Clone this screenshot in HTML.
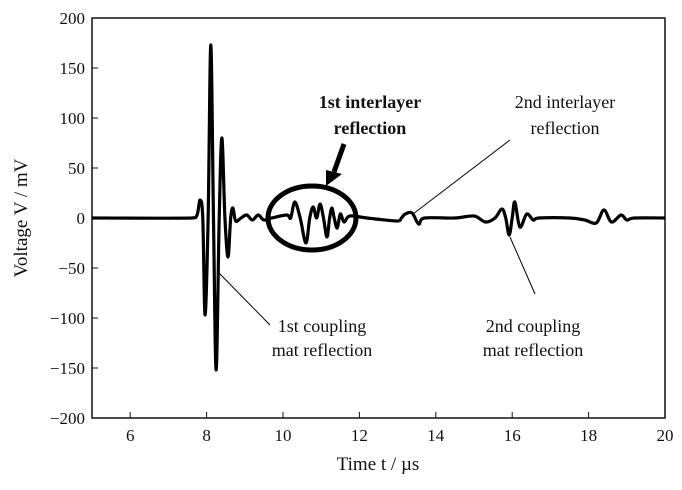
<!DOCTYPE html>
<html><head><meta charset="utf-8"><style>
body{margin:0;background:#fff;}
svg text{font-family:"Liberation Serif",serif;fill:#111;}
</style></head><body>
<svg id="c" width="682" height="485" xmlns="http://www.w3.org/2000/svg"></svg>
<script>
const times=[5,7.6,7.75,7.83,7.9,7.96,8.04,8.11,8.18,8.25,8.33,8.40,8.48,8.56,8.63,8.69,8.76,8.9,9.05,9.2,9.35,9.5,9.7,10.1,10.2,10.31,10.45,10.6,10.7,10.79,10.88,10.97,11.06,11.15,11.22,11.28,11.34,11.42,11.5,11.6,11.75,12.2,13.0,13.1,13.2,13.38,13.55,13.7,14.5,15.0,15.3,15.55,15.73,15.83,15.92,16.0,16.07,16.2,16.38,16.55,16.7,17.5,17.9,18.2,18.4,18.6,18.85,19.0,19.2,20];
const volts=[0,0,3,18,0,-97,0,173,0,-152,0,80,0,-39,0,10,-3,0,3,-2,3,-2,0,3,0,16,0,-25,0,11,0,14,0,-19,0,10,0,-10,4,-4,2,0,-3,0,4,5,-6,0,0,2,-4,0,9,0,-17,0,16,-9,4,-2,0,0,-2,-5,8,-4,3,-2,0,0];
const xTicks=[6,8,10,12,14,16,18,20];
const yTicks=[200,150,100,50,0,-50,-100,-150,-200];
const NS="http://www.w3.org/2000/svg";
const svg=document.getElementById('c');
const X0=92,X1=665,Y0=18,Y1=418;
const sx=t=>X0+(t-5)/(20-5)*(X1-X0);
const sy=v=>Y1-(v+200)/400*(Y1-Y0);
function mk(tag,a,p){const e=document.createElementNS(NS,tag);for(const k in a)e.setAttribute(k,a[k]);(p||svg).appendChild(e);return e;}
// frame
const fr=mk('rect',{x:X0,y:Y0,width:X1-X0,height:Y1-Y0,fill:'none',stroke:'#111','stroke-width':1.5});


xTicks.forEach(t=>{
 const l=mk('line',{x1:sx(t),x2:sx(t),y1:Y1,y2:Y1-6,stroke:'#111'});
 
 
 const tx=mk('text',{x:sx(t),y:Y1+23,'text-anchor':'middle','font-size':17});
 tx.textContent=t;
 
 
});
yTicks.forEach(v=>{
 const l=mk('line',{x1:X0,x2:X0+6,y1:sy(v),y2:sy(v),stroke:'#111'});
 
 
 const tx=mk('text',{x:X0-7,y:sy(v)+6,'text-anchor':'end','font-size':17});
 tx.textContent=v<0?'\u2212'+(-v):v;
 
 
});
const xt=mk('text',{x:378,y:470,'text-anchor':'middle','font-size':19});
xt.textContent='Time t / \u00b5s';


const yt=mk('text',{x:0,y:0,'text-anchor':'middle','font-size':19,transform:'translate(27,218) rotate(-90)'});
yt.textContent='Voltage V / mV';


// smooth curve (Catmull-Rom)
const P=times.map((t,i)=>[sx(t),sy(volts[i])]);
let d='M'+P[0][0]+','+P[0][1];
for(let i=0;i<P.length-1;i++){
 const p0=P[Math.max(i-1,0)],p1=P[i],p2=P[i+1],p3=P[Math.min(i+2,P.length-1)];
 const c1=[p1[0]+(p2[0]-p0[0])/6,p1[1]+(p2[1]-p0[1])/6];
 const c2=[p2[0]-(p3[0]-p1[0])/6,p2[1]-(p3[1]-p1[1])/6];
 c1[0]=Math.min(Math.max(c1[0],p1[0]),p2[0]);c2[0]=Math.min(Math.max(c2[0],p1[0]),p2[0]);
 d+=` C${c1[0]},${c1[1]} ${c2[0]},${c2[1]} ${p2[0]},${p2[1]}`;
}
const ln=mk('path',{d:d,fill:'none',stroke:'#000','stroke-width':3.2,'stroke-linejoin':'round'});


// annotations
const el=mk('ellipse',{cx:312,cy:218,rx:44,ry:32,fill:'none',stroke:'#000','stroke-width':5});


const ar=mk('line',{x1:344,y1:144,x2:334,y2:172,stroke:'#000','stroke-width':5});


const ah=mk('polygon',{points:'326,186 326,170 342,174',fill:'#000'});


[[510,140,413,214,'leader-2nd-interlayer'],[270,325,218,272,'leader-1st-coupling'],[535,294,510,237,'leader-2nd-coupling']].forEach(a=>{
 const l=mk('line',{x1:a[0],y1:a[1],x2:a[2],y2:a[3],stroke:'#000','stroke-width':1});
 
 
});
[[370,108,'1st interlayer',true,'label-1st-interlayer'],[370,134,'reflection',true,'label-1st-interlayer-2'],
 [565,108,'2nd interlayer',false,'label-2nd-interlayer'],[565,134,'reflection',false,'label-2nd-interlayer-2'],
 [322,332,'1st coupling',false,'label-1st-coupling'],[322,356,'mat reflection',false,'label-1st-coupling-2'],
 [533,332,'2nd coupling',false,'label-2nd-coupling'],[533,356,'mat reflection',false,'label-2nd-coupling-2']].forEach(a=>{
 const t=mk('text',{x:a[0],y:a[1],'text-anchor':'middle','font-size':18,'font-weight':a[3]?'bold':'normal'});
 t.textContent=a[2];
 
 
});
</script>
</body></html>
